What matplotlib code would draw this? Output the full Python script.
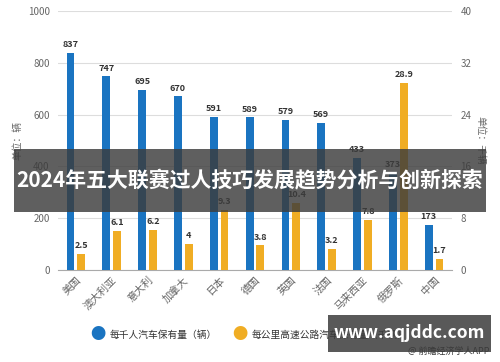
import matplotlib.pyplot as plt
from matplotlib.patches import Rectangle
import numpy as np

plt.rcParams['font.family'] = ['Noto Sans CJK SC', 'DejaVu Sans']

# 数据
countries = ['美国', '澳大利亚', '意大利', '加拿大', '日本', '德国', '英国', '法国', '马来西亚', '俄罗斯', '中国']
cars_per_1000 = [837, 747, 695, 670, 591, 589, 579, 569, 433, 373, 173]
cars_per_km = [2.5, 6.1, 6.2, 4, 9.3, 3.8, 10.4, 3.2, 7.8, 28.9, 1.7]
left_ticks = [0, 200, 400, 600, 800, 1000]
right_ticks = [0, 8, 16, 24, 32, 40]

blue = '#1a74c1'
orange = '#f0ad24'
gray = '#666666'

fig = plt.figure(figsize=(5, 3.62), dpi=100)
ax = fig.add_axes([0.116, 0.254, 0.788, 0.716])
ax2 = ax.twinx()

x = np.arange(len(countries))
w = 0.22
ax.bar(x - 0.15, cars_per_1000, width=w, color=blue, zorder=3)
ax2.bar(x + 0.15, cars_per_km, width=w, color=orange, zorder=3)

for i, v in enumerate(cars_per_1000):
    ax.text(x[i] - 0.15, v + 15, str(v), ha='center', va='bottom',
            fontsize=6.5, fontweight='bold', color='#333333')
for i, v in enumerate(cars_per_km):
    ax2.text(x[i] + 0.15, v + 0.6, f'{v:g}', ha='center', va='bottom',
             fontsize=6.5, fontweight='bold', color='#333333')

ax.set_ylim(0, 1000)
ax2.set_ylim(0, 40)
ax.set_xlim(-0.5, len(countries) - 0.5)
ax.set_yticks(left_ticks)
ax2.set_yticks(right_ticks)
ax.grid(axis='y', color='#dddddd', linewidth=0.8, zorder=0)
ax.set_axisbelow(True)

for a in (ax, ax2):
    for s in a.spines.values():
        s.set_visible(False)
    a.tick_params(length=0, labelsize=7, colors=gray)
ax.spines['bottom'].set_visible(True)
ax.spines['bottom'].set_color('#aaaaaa')
ax.tick_params(axis='y', pad=6)
ax2.tick_params(axis='y', pad=6)

ax.set_xticks(x)
ax.set_xticklabels(countries, rotation=45, ha='right', rotation_mode='anchor',
                   fontsize=7.5, color=gray)

ax.set_ylabel('单位：辆', fontsize=7, color=gray)
ax2.set_ylabel('单位：千辆', fontsize=7, color=gray, rotation=270, labelpad=10)

# 图例
fig.text(0.196, 0.075, '●', fontsize=11, color=blue, va='center', ha='center')
fig.text(0.22, 0.075, '每千人汽车保有量（辆）', fontsize=7, color='#333333', va='center')
fig.text(0.48, 0.075, '●', fontsize=11, color=orange, va='center', ha='center')
fig.text(0.504, 0.075, '每公里高速公路汽车保有量（千辆）', fontsize=7, color='#333333', va='center')
fig.text(0.98, 0.028, '@ 前瞻经济学人APP', fontsize=6.5, color='#333333', ha='right', va='center')

# 标题横幅
fig.patches.append(Rectangle((0.028, 0.414), 0.944, 0.175, transform=fig.transFigure,
                             facecolor='#3c3c3c', alpha=0.82, zorder=10))
fig.text(0.5, 0.501, '2024年五大联赛过人技巧发展趋势分析与创新探索', fontsize=15,
         fontweight='bold', color='white', ha='center', va='center', zorder=11)

# 网址横幅
fig.patches.append(Rectangle((0.656, 0.028), 0.326, 0.102, transform=fig.transFigure,
                             facecolor='#3c3c3c', alpha=0.85, zorder=10))
fig.text(0.819, 0.079, 'www.aqjddc.com', fontsize=12.5, fontweight='bold',
         color='white', ha='center', va='center', zorder=11)

plt.savefig('out.png', dpi=100)
